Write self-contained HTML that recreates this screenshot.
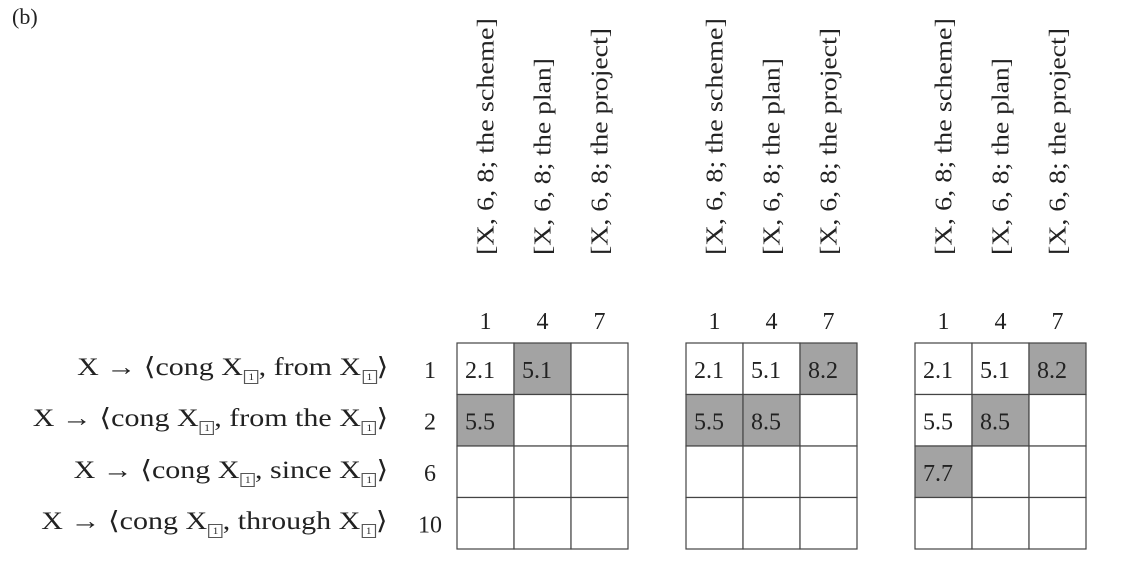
<!DOCTYPE html>
<html><head><meta charset="utf-8"><style>
body{margin:0;width:1122px;height:568px;background:#fff;position:relative;overflow:hidden;font-family:"Liberation Serif",serif;color:#222}
.abs{position:absolute}
.rl{position:absolute;right:734px;font-size:25px;white-space:nowrap;line-height:28px;transform:scaleX(1.2);transform-origin:right center}
.bx{display:inline-block;width:10px;height:12px;border:1px solid #555;font-size:9px;line-height:12px;text-align:center;vertical-align:-5px;margin-left:1px}
</style></head><body>
<div class="abs" style="left:12px;top:4px;font-size:22px">(b)</div>
<div id="rows"></div>
<svg id="svg" width="1122" height="568" style="position:absolute;left:0;top:0"></svg>
<script>
const rowNums=[1,2,6,10];
const colNums=[1,4,7];
const colLabels=["[X, 6, 8; the scheme]","[X, 6, 8; the plan]","[X, 6, 8; the project]"];
const rowWords=["from","from the","since","through"];
const grid1=[["2.1","5.1",""],["5.5","",""],["","",""],["","",""]];
const grid2=[["2.1","5.1","8.2"],["5.5","8.5",""],["","",""],["","",""]];
const grid3=[["2.1","5.1","8.2"],["5.5","8.5",""],["7.7","",""],["","",""]];
const shade1=[[0,1,0],[1,0,0],[0,0,0],[0,0,0]];
const shade2=[[0,0,1],[1,1,0],[0,0,0],[0,0,0]];
const shade3=[[0,0,1],[0,1,0],[1,0,0],[0,0,0]];
const grids=[grid1,grid2,grid3], shades=[shade1,shade2,shade3];
const gridX=[457,686,915], top0=343, cw=57, rh=51.5;
const labLen=[237,197,227];
const NS="http://www.w3.org/2000/svg";
const svg=document.getElementById('svg');
function mk(t,a){const e=document.createElementNS(NS,t);for(const k in a)e.setAttribute(k,a[k]);svg.appendChild(e);return e;}
const rows=document.getElementById('rows');
rowWords.forEach((w,i)=>{
  const d=document.createElement('div');d.className='rl';
  
  
  d.style.top=(top0+i*rh+rh/2-15)+'px';
  d.innerHTML='X → ⟨cong X<span class="bx">1</span>, '+w+' X<span class="bx">1</span>⟩';
  rows.appendChild(d);
  const n=mk('text',{x:430,y:top0+i*rh+rh/2+9,'text-anchor':'middle','font-size':24,fill:'#222','font-family':'Liberation Serif'});
  n.textContent=rowNums[i];
  
  
});
grids.forEach((g,gi)=>{
  const x0=gridX[gi];
  colNums.forEach((c,ci)=>{
    const cx=x0+ci*cw+cw/2;
    const t=mk('text',{x:cx,y:329,'text-anchor':'middle','font-size':24,fill:'#222','font-family':'Liberation Serif'});
    t.textContent=c;
    
    
    const l=mk('text',{x:0,y:0,transform:'translate('+(cx+8)+',255) rotate(-90)','font-size':24,fill:'#222','font-family':'Liberation Serif',textLength:labLen[ci],lengthAdjust:'spacingAndGlyphs'});
    l.textContent=colLabels[ci];
    
    
  });
  g.forEach((row,ri)=>row.forEach((v,ci)=>{
    const x=x0+ci*cw,y=top0+ri*rh;
    const r=mk('rect',{x:x,y:y,width:cw,height:rh,fill:shades[gi][ri][ci]?'#a3a3a3':'#fff',stroke:'#444','stroke-width':1.2});
    
    
    if(v){const t=mk('text',{x:x+8,y:y+rh/2+9,'font-size':24,fill:'#222','font-family':'Liberation Serif'});t.textContent=v;
      
      }
  }));
});
</script>
</body></html>
